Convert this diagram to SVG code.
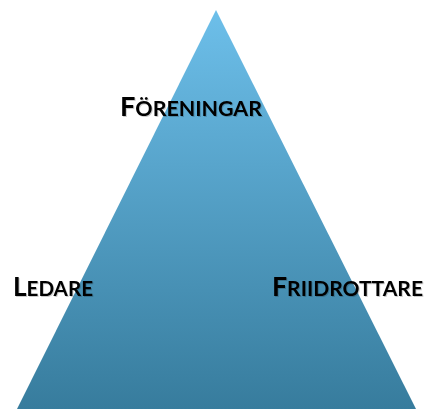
<svg xmlns="http://www.w3.org/2000/svg" width="427" height="409" viewBox="0 0 427 409">
<defs>
<linearGradient id="g" x1="0" y1="10" x2="0" y2="409" gradientUnits="userSpaceOnUse">
<stop offset="0" stop-color="#6dbfea"/>
<stop offset="1" stop-color="#377c9d"/>
</linearGradient>
<filter id="sh" x="-10%" y="-20%" width="120%" height="140%">
<feDropShadow dx="1" dy="1" stdDeviation="0.6" flood-color="#000" flood-opacity="0.2"/>
</filter>
</defs>
<style>
.lbl{font-family:Lato,"Open Sans","Liberation Sans",sans-serif;font-weight:bold;fill:#000;filter:url(#sh)}
.big{font-size:26px}
.sm{font-size:20.5px}
</style>
<g id="pyramid">
<polygon points="216,10 17,409 416,409" fill="url(#g)"/>
</g>
<g id="connectors"/>
<g id="foreningar">
<text class="lbl" x="120" y="116" textLength="142" lengthAdjust="spacingAndGlyphs"><tspan class="big">F</tspan><tspan class="sm">ÖRENINGAR</tspan></text>
</g>
<g id="ledare">
<text class="lbl" x="13" y="296" textLength="80" lengthAdjust="spacingAndGlyphs"><tspan class="big">L</tspan><tspan class="sm">EDARE</tspan></text>
</g>
<g id="friidrottare">
<text class="lbl" x="272" y="296" textLength="151" lengthAdjust="spacingAndGlyphs"><tspan class="big">F</tspan><tspan class="sm">RIIDROTTARE</tspan></text>
</g>
</svg>
